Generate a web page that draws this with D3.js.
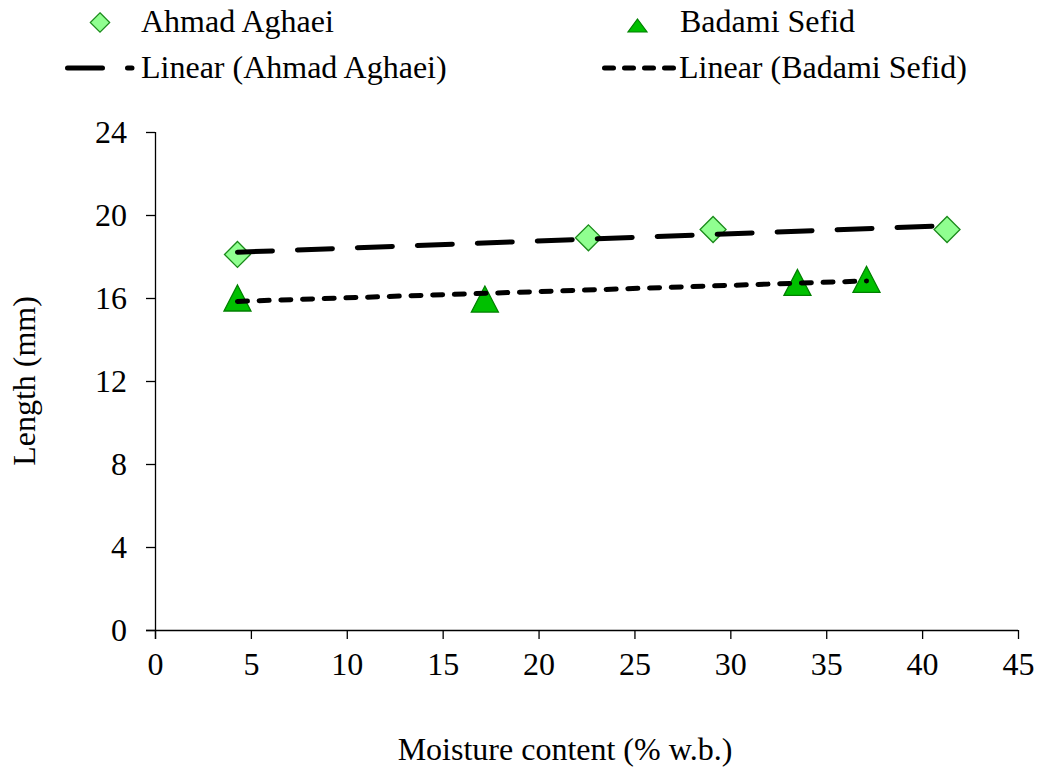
<!DOCTYPE html>
<html><head><meta charset="utf-8">
<script src="https://cdn.jsdelivr.net/npm/d3@7"></script>
<style>body{margin:0;background:#fff;}</style>
</head><body>
<svg id="c" width="1040" height="775"></svg>
<script>
const ahmadX = [4.3, 22.6, 29.1, 41.3];
const ahmadY = [18.1, 18.9, 19.3, 19.3];
const badamiX = [4.3, 17.2, 33.5, 37.1];
const badamiY = [16.0, 15.95, 16.75, 16.9];
const xTicks = [0, 5, 10, 15, 20, 25, 30, 35, 40, 45];
const yTicks = [0, 4, 8, 12, 16, 20, 24];

const FONT = '"Liberation Serif", "Times New Roman", serif';
const FS = 32;
const svg = d3.select("#c").style("font-family", FONT);
const x = d3.scaleLinear().domain([0, 45]).range([155, 1018]);
const y = d3.scaleLinear().domain([0, 24]).range([630, 132]);

function fit(xs, ys) {
  const mx = d3.mean(xs), my = d3.mean(ys);
  let sxy = 0, sxx = 0;
  xs.forEach((v, i) => { sxy += (v - mx) * (ys[i] - my); sxx += (v - mx) * (v - mx); });
  const b = sxy / sxx, a = my - b * mx;
  const x0 = d3.min(xs), x1 = d3.max(xs);
  return [[x0, a + b * x0], [x1, a + b * x1]];
}

// triangle symbol with given width/height
function triSym(w, h) {
  return { draw(ctx) { ctx.moveTo(0, -h / 2); ctx.lineTo(w / 2, h / 2); ctx.lineTo(-w / 2, h / 2); ctx.closePath(); } };
}

// axes
const xAxis = svg.append("g").attr("transform", "translate(0,630)")
  .call(d3.axisBottom(x).tickValues(xTicks).tickSize(9).tickSizeOuter(0).tickPadding(13));
xAxis.select(".domain").attr("d", "M146,0.5H1018");
const yAxis = svg.append("g").attr("transform", "translate(155,0)")
  .call(d3.axisLeft(y).tickValues(yTicks).tickSize(9).tickSizeOuter(0).tickPadding(19));
yAxis.select(".domain").attr("d", "M0.5,132V639");
svg.selectAll("g").attr("font-family", null).attr("font-size", null);
svg.selectAll(".tick text").style("font-family", FONT).style("font-size", FS + "px").attr("fill", "#000");
svg.selectAll(".tick line, .domain").attr("stroke", "#000").attr("stroke-width", 1.3);

// axis titles
svg.append("text").attr("x", 565).attr("y", 760).attr("text-anchor", "middle")
  .style("font-size", FS + "px").text("Moisture content (% w.b.)");
svg.append("text").attr("transform", "translate(35,381) rotate(-90)").attr("text-anchor", "middle")
  .style("font-size", FS + "px").text("Length (mm)");

const diamond = d3.symbol().type(d3.symbolDiamond2).size(430);
const tri = d3.symbol().type(triSym(27, 26));

// markers
svg.append("g").selectAll("path").data(ahmadX).join("path")
  .attr("d", diamond).attr("transform", (d, i) => `translate(${x(d)},${y(ahmadY[i])})`)
  .attr("fill", "#90ff90").attr("stroke", "#1a8a1a").attr("stroke-width", 1.3);
svg.append("g").selectAll("path").data(badamiX).join("path")
  .attr("d", tri).attr("transform", (d, i) => `translate(${x(d)},${y(badamiY[i])})`)
  .attr("fill", "#00c000").attr("stroke", "#008000").attr("stroke-width", 1.3);

// trend lines
const line = d3.line().x(d => x(d[0])).y(d => y(d[1]));
svg.append("path").attr("d", line(fit(ahmadX, ahmadY))).attr("fill", "none")
  .attr("stroke", "#000").attr("stroke-width", 5).attr("stroke-linecap", "round")
  .attr("stroke-dasharray", "35,25");
svg.append("path").attr("d", line(fit(badamiX, badamiY))).attr("fill", "none")
  .attr("stroke", "#000").attr("stroke-width", 5).attr("stroke-linecap", "round")
  .attr("stroke-dasharray", "10,11.7");

// legend
const lg = svg.append("g").style("font-size", FS + "px");
lg.append("path").attr("d", d3.symbol().type(d3.symbolDiamond2).size(240))
  .attr("transform", "translate(100,22.5)").attr("fill", "#90ff90").attr("stroke", "#1a8a1a").attr("stroke-width", 1.2);
lg.append("text").attr("x", 141).attr("y", 32).text("Ahmad Aghaei");
lg.append("path").attr("d", d3.symbol().type(triSym(19, 13)))
  .attr("transform", "translate(637.5,25.5)").attr("fill", "#00c000").attr("stroke", "#008000").attr("stroke-width", 1.2);
lg.append("text").attr("x", 680).attr("y", 32).text("Badami Sefid");

lg.append("path").attr("d", "M67.5,68H102.5M127.5,68H132").attr("stroke", "#000").attr("stroke-width", 5)
  .attr("stroke-linecap", "round").attr("fill", "none");
lg.append("text").attr("x", 141).attr("y", 78).text("Linear (Ahmad Aghaei)");
lg.append("path").attr("d", "M604.5,68H676").attr("stroke", "#000").attr("stroke-width", 5)
  .attr("stroke-linecap", "round").attr("stroke-dasharray", "9,11").attr("fill", "none");
lg.append("text").attr("x", 679).attr("y", 78).text("Linear (Badami Sefid)");
</script>
</body></html>
